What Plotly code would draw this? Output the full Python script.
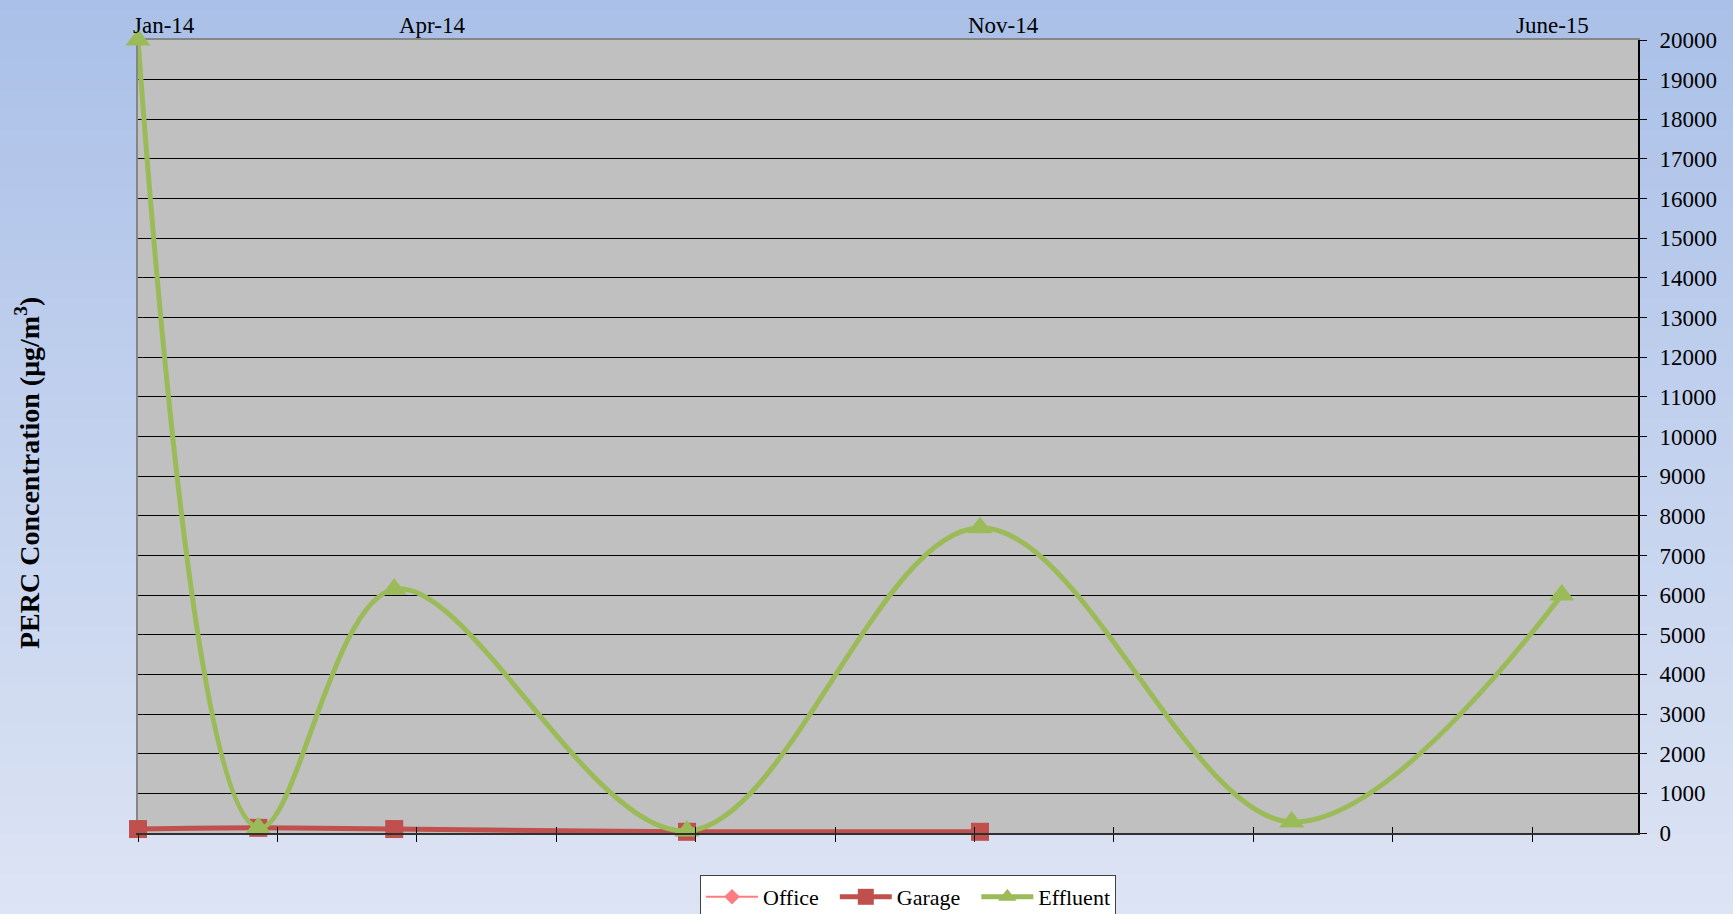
import plotly.graph_objects as go

# ---------------- data ----------------
sample_pos = [0, 0.863, 1.838, 3.938, 6.040, 8.276, 10.213]   # position along the x axis (tick units)
effluent = [20000, 130, 6150, 50, 7700, 280, 6000]
garage = [100, 130, 100, 30, 30]
office = [80, 100, 80, 20, 20]
series_names = ["Office", "Garage", "Effluent"]
top_labels = ["Jan-14", "Apr-14", "Nov-14", "June-15"]
top_label_pos = [0.187, 2.109, 6.205, 10.15]
y_ticks = list(range(0, 20001, 1000))
x_ticks = list(range(0, 11))

FONT = "Times New Roman, Liberation Serif, serif"
X_MAX = 10.76
PAD = "\u00a0\u00a0"

fig = go.Figure()
fig.add_trace(go.Scatter(
    x=sample_pos[:len(office)], y=office, name=series_names[0] + PAD, mode="lines+markers",
    line=dict(color="#FF7C80", width=2, shape="spline", smoothing=1),
    marker=dict(symbol="diamond", size=12, color="#FF7C80"), cliponaxis=False))
fig.add_trace(go.Scatter(
    x=sample_pos[:len(garage)], y=garage, name=series_names[1] + PAD, mode="lines+markers",
    line=dict(color="#C0504D", width=5, shape="spline", smoothing=1),
    marker=dict(symbol="square", size=18, color="#C0504D"), cliponaxis=False))
fig.add_trace(go.Scatter(
    x=sample_pos, y=effluent, name=series_names[2], mode="lines+markers",
    line=dict(color="#9BBB59", width=5, shape="spline", smoothing=1),
    marker=dict(symbol="triangle-up", size=22, color="#9BBB59"),
    cliponaxis=False))

# ---------------- gradient background ----------------
shapes = []
W, H = 1733, 914
ml, mr, mt, mb = 138, 95, 40, 81
pw, ph = W - ml - mr, H - mt - mb
top_c = (170, 192, 232)
bot_c = (221, 228, 244)
N = 92
for i in range(N):
    y0px = H * i / N
    y1px = H * (i + 1) / N + 1
    t = (y0px + y1px) / 2 / H
    c = tuple(int(round(top_c[k] + (bot_c[k] - top_c[k]) * t)) for k in range(3))
    shapes.append(dict(
        type="rect", xref="paper", yref="paper", layer="below",
        x0=-ml / pw - 0.01, x1=1 + mr / pw + 0.01,
        y0=(H - mb - y1px) / ph, y1=(H - mb - y0px) / ph,
        fillcolor="rgb(%d,%d,%d)" % c, line=dict(width=0)))
# plot area fill
shapes.append(dict(type="rect", xref="x domain", yref="y domain", layer="below",
                   x0=0, x1=1, y0=0, y1=1, fillcolor="#C0C0C0", line=dict(width=0)))

annotations = []
for lab, pos in zip(top_labels, top_label_pos):
    annotations.append(dict(text=lab, x=pos, y=1, xref="x", yref="paper",
                            xanchor="center", yanchor="bottom", showarrow=False,
                            font=dict(family=FONT, size=23, color="black")))
annotations.append(dict(text="<b>PERC Concentration (μg/m<sup>3</sup>)</b>",
                        x=(27 - ml) / pw, y=(H - mb - 473) / ph, xref="paper", yref="paper",
                        xanchor="center", yanchor="middle", textangle=-90, showarrow=False,
                        font=dict(family=FONT, size=28, color="black")))

fig.update_layout(
    width=W, height=H,
    margin=dict(l=ml, r=mr, t=mt, b=mb, pad=0, autoexpand=False),
    paper_bgcolor="rgba(0,0,0,0)", plot_bgcolor="rgba(0,0,0,0)",
    font=dict(family=FONT, color="black"),
    shapes=shapes, annotations=annotations,
    showlegend=True,
    legend=dict(orientation="h", x=(908 - ml) / pw, xanchor="center",
                y=-42 / ph, yanchor="top", bgcolor="white",
                bordercolor="#404040", borderwidth=1, itemwidth=52,
                font=dict(family=FONT, size=22, color="black")),
    xaxis=dict(range=[0, X_MAX], tickvals=x_ticks, showticklabels=False,
               ticks="outside", ticklen=7, tickcolor="black", tickwidth=1,
               showgrid=False, zeroline=False, showline=True, linecolor="#303030", linewidth=2),
    xaxis2=dict(range=[0, X_MAX], tickvals=x_ticks, showticklabels=False, overlaying="x",
                anchor="y", side="bottom", ticks="inside", ticklen=6, tickcolor="black",
                tickwidth=1, showgrid=False, zeroline=False, showline=False),
    xaxis3=dict(range=[0, X_MAX], showticklabels=False, overlaying="x", anchor="y",
                side="top", ticks="", showgrid=False, zeroline=False, showline=True,
                linecolor="#868686", linewidth=2, layer="below traces"),
    yaxis=dict(range=[0, 20000], tickvals=y_ticks, side="right", tickformat="d",
               ticks="outside", ticklen=7, tickcolor="black", tickwidth=1,
               showgrid=True, gridcolor="black", gridwidth=1, zeroline=False,
               showline=True, linecolor="black", linewidth=2,
               tickfont=dict(family=FONT, size=23, color="black"),
               ticklabelstandoff=8),
    yaxis2=dict(range=[0, 20000], showticklabels=False, overlaying="y", anchor="x",
                side="left", ticks="", showgrid=False, zeroline=False, showline=True,
                linecolor="#868686", linewidth=2, layer="below traces"),
)
# invisible helper traces to activate the overlay axes
fig.add_trace(go.Scatter(x=[0], y=[0], xaxis="x2", yaxis="y", mode="markers",
                         marker=dict(opacity=0), showlegend=False, hoverinfo="skip"))
fig.add_trace(go.Scatter(x=[0], y=[0], xaxis="x3", yaxis="y2", mode="markers",
                         marker=dict(opacity=0), showlegend=False, hoverinfo="skip"))

fig.write_html("out.html", config={"displayModeBar": False},
               post_script="document.body.style.margin='0';")
